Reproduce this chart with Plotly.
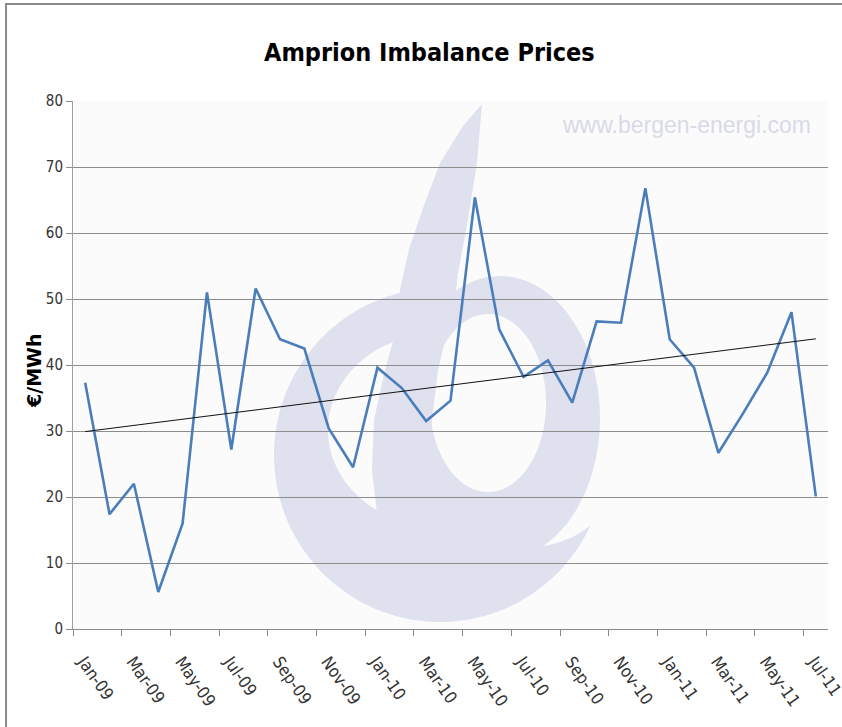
import numpy as np
import plotly.graph_objects as go

# monthly imbalance prices, Jan-09 .. Jul-11 (EUR/MWh)
months = ["Jan-09", "Feb-09", "Mar-09", "Apr-09", "May-09", "Jun-09", "Jul-09", "Aug-09",
          "Sep-09", "Oct-09", "Nov-09", "Dec-09", "Jan-10", "Feb-10", "Mar-10", "Apr-10",
          "May-10", "Jun-10", "Jul-10", "Aug-10", "Sep-10", "Oct-10", "Nov-10", "Dec-10",
          "Jan-11", "Feb-11", "Mar-11", "Apr-11", "May-11", "Jun-11", "Jul-11"]
prices = [37.3, 17.4, 22.0, 5.6, 16.0, 51.0, 27.2, 51.6, 43.9, 42.5, 30.4, 24.5,
          39.6, 36.5, 31.5, 34.6, 65.4, 45.4, 38.2, 40.7, 34.3, 46.6, 46.4, 66.8,
          43.9, 39.6, 26.7, 32.6, 38.8, 48.0, 20.1]
y_ticks = [0, 10, 20, 30, 40, 50, 60, 70, 80]

idx = np.arange(len(months))
slope, icpt = np.polyfit(idx, prices, 1)
trend = slope * idx + icpt

NARROW = "DejaVu Sans Condensed, Liberation Sans, sans-serif"

# plot area in pixels
L, R, T, B = 73, 828, 101, 629


def to_paper(x, y):
    return (x - L) / (R - L), (B - y) / (B - T)


def path_from(points, close=True):
    pts = [to_paper(x, y) for x, y in points]
    s = "M " + " L ".join(f"{a:.4f},{b:.4f}" for a, b in pts)
    return s + (" Z" if close else "")


def ellipse(cx, cy, rx, ry, a0, a1, n=90):
    t = np.radians(np.linspace(a0, a1, n))
    return list(zip(cx + rx * np.cos(t), cy + ry * np.sin(t)))


# watermark logo (decoration, pixel coordinates)
lav = "#dfe1ef"
ang = np.linspace(262, 25, 140)
outer, inner = [], []
for a in ang:
    t = np.radians(a)
    ox, oy = 440 + 166 * np.cos(t), 455 + 167 * np.sin(t)
    ix, iy = 440 + 112 * np.cos(t), 430 + 97 * np.sin(t)
    g = 0.0 if a >= 80 else (80 - a) / (80 - 25)
    outer.append((ox, oy))
    inner.append((ix + (ox - ix) * g, iy + (oy - iy) * g))
c_ring = path_from(outer + inner[::-1])

bowl = path_from(ellipse(500, 418, 100, 142, 0, 360)) + " " + \
    path_from(ellipse(488, 403, 58, 89, 360, 0))

stem = path_from([(482, 104), (463, 126), (440, 163), (423, 208), (409, 249), (400, 290),
                  (396, 331), (385, 370), (374, 420), (372, 470), (378, 523), (430, 565),
                  (446, 498), (433, 480), (430, 437), (438, 370), (455, 300), (458, 273),
                  (467, 225), (477, 163)])

x0, y0 = to_paper(L, B)
x1, y1 = to_paper(R, T)
shapes = [
    dict(type="rect", xref="paper", yref="paper", x0=x0, y0=y0, x1=x1, y1=y1,
         fillcolor="#fbfbfb", line=dict(width=0), layer="below"),
    dict(type="path", xref="paper", yref="paper", path=c_ring, fillcolor=lav,
         line=dict(width=0), layer="below"),
    dict(type="path", xref="paper", yref="paper", path=bowl, fillcolor=lav,
         fillrule="evenodd", line=dict(width=0), layer="below"),
    dict(type="path", xref="paper", yref="paper", path=stem, fillcolor=lav,
         line=dict(width=0), layer="below"),
    # outer frame, only top and left edges are in view
    dict(type="path", xref="paper", yref="paper",
         path=path_from([(6, 800), (6, 4), (900, 4)], close=False),
         line=dict(color="#8a8a8a", width=2)),
]

fig = go.Figure()
fig.add_trace(go.Scatter(x=idx, y=prices, mode="lines", name="Price",
                         line=dict(color="#4a7ebb", width=2.6)))
fig.add_trace(go.Scatter(x=idx, y=trend, mode="lines", name="Trend",
                         line=dict(color="#111111", width=1)))

tx, ty = to_paper(429, 52)
wx, wy = to_paper(686, 125)
ax_, ay_ = to_paper(34, 371)
annotations = [
    dict(text="<b>Amprion Imbalance Prices</b>", xref="paper", yref="paper", x=tx, y=ty,
         xanchor="center", yanchor="middle", showarrow=False,
         font=dict(family=NARROW, size=25, color="#000000")),
    dict(text="www.bergen-energi.com", xref="paper", yref="paper", x=wx, y=wy,
         xanchor="center", yanchor="middle", showarrow=False,
         font=dict(family="Liberation Sans", size=23, color="#d8dae7")),
    dict(text="<b>€/MWh</b>", xref="paper", yref="paper", x=ax_, y=ay_, textangle=-90,
         xanchor="center", yanchor="middle", showarrow=False,
         font=dict(family="DejaVu Sans", size=19, color="#000000")),
]

fig.update_layout(
    width=842, height=727,
    margin=dict(l=L, r=842 - R, t=T, b=727 - B, autoexpand=False),
    paper_bgcolor="white", plot_bgcolor="rgba(0,0,0,0)",
    showlegend=False,
    shapes=shapes,
    annotations=annotations,
)
fig.update_xaxes(
    range=[-0.5, len(months) - 0.5],
    tickvals=[i - 0.5 for i in range(0, len(months), 2)],
    ticktext=months[::2],
    tickangle=55,
    ticklabelshift=11, ticklabelstandoff=9, ticklabeloverflow="allow",
    ticks="outside", ticklen=6, tickcolor="#8a8a8a",
    showgrid=False, zeroline=False, automargin=False,
    showline=True, linecolor="#8a8a8a", linewidth=1,
    tickfont=dict(family=NARROW, size=17, color="#333333"),
)
fig.update_yaxes(
    range=[0, 80], tickvals=y_ticks,
    ticks="outside", ticklen=6, tickcolor="#8a8a8a",
    showgrid=True, gridcolor="#8c8c8c", gridwidth=1, zeroline=False, automargin=False,
    showline=True, linecolor="#a0a0a0", linewidth=1,
    tickfont=dict(family=NARROW, size=15, color="#333333"),
)

fig.write_html("out.html", config={"displayModeBar": False},
               post_script="document.body.style.margin = '0'; document.body.style.overflow = 'hidden';")
